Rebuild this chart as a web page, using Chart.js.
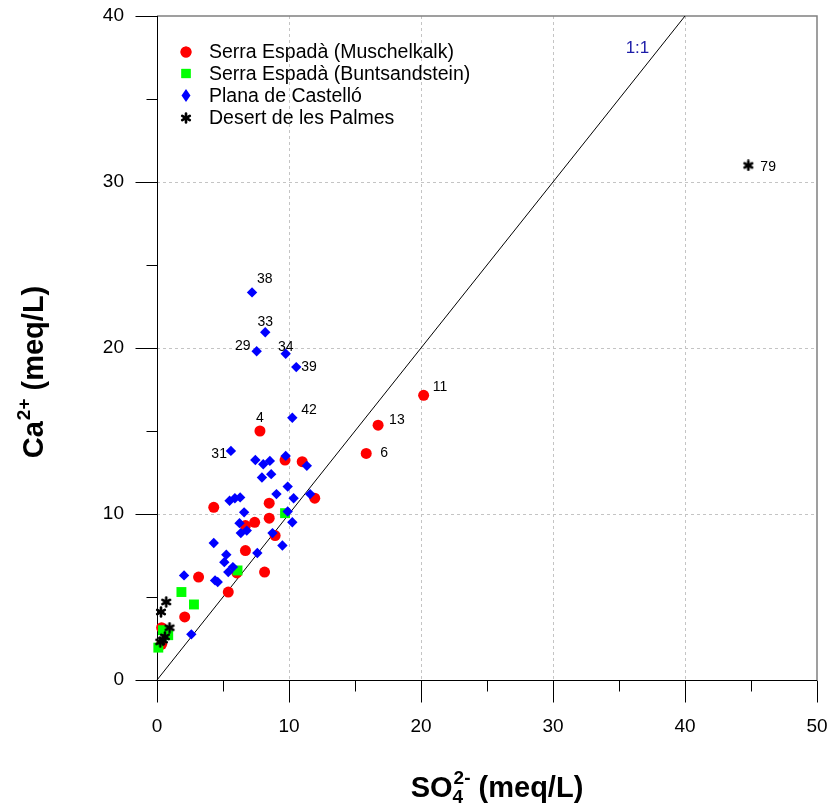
<!DOCTYPE html>
<html><head><meta charset="utf-8">
<script src="https://cdn.jsdelivr.net/npm/chart.js@4.4.0/dist/chart.umd.min.js"></script>
<style>html,body{margin:0;padding:0;background:#fff;} #wrap{width:832px;height:809px;position:relative;}</style>
</head><body><div id="wrap"><canvas id="c" width="832" height="809"></canvas></div>
<script>
// ---------- DATA ----------
const seriesNames = ['Serra Espadà (Muschelkalk)', 'Serra Espadà (Buntsandstein)', 'Plana de Castelló', 'Desert de les Palmes'];

const muschelkalkSO4 = [7.8, 9.7, 11.0, 11.95, 4.3, 8.5, 8.5, 7.4, 6.7, 8.95, 6.7, 6.05, 8.15, 3.15, 5.4, 2.1, 0.35, 0.35, 20.2, 16.75, 15.85];
const muschelkalkCa  = [15.0, 13.25, 13.15, 10.95, 10.4, 10.65, 9.75, 9.5, 9.3, 8.7, 7.8, 6.45, 6.5, 6.2, 5.3, 3.8, 3.15, 2.15, 17.15, 15.35, 13.65];
const muschelkalkLabels = ['4', '', '', '', '', '', '', '', '', '', '', '', '', '', '', '', '', '', '11', '13', '6'];

const buntSO4 = [9.7, 6.1, 1.85, 2.8, 0.45, 0.85, 0.1];
const buntCa  = [10.05, 6.6, 5.3, 4.55, 3.0, 2.7, 1.95];

const planaSO4 = [7.2, 8.2, 7.55, 9.75, 10.55, 10.25, 5.6, 7.45, 8.05, 8.55, 9.75, 11.35, 7.95, 8.65, 9.9, 9.05, 10.35, 11.6, 5.5, 5.9, 6.3, 6.6, 9.9, 10.25, 6.25, 6.35, 6.8, 8.75, 9.5, 4.3, 5.25, 7.6, 5.1, 5.75, 5.4, 2.05, 4.4, 4.6, 2.6];
const planaCa  = [23.35, 20.95, 19.8, 19.65, 18.85, 15.8, 13.8, 13.25, 13.0, 13.2, 13.5, 12.9, 12.2, 12.4, 11.65, 11.2, 10.95, 11.2, 10.8, 10.95, 11.0, 10.1, 10.15, 9.5, 9.45, 8.85, 9.0, 8.85, 8.1, 8.25, 7.55, 7.65, 7.1, 6.8, 6.5, 6.3, 6.0, 5.9, 2.75];
const planaLabels = ['38', '33', '29', '34', '39', '42', '31', '', '', '', '', '', '', '', '', '', '', '', '', '', '', '', '', '', '', '', '', '', '', '', '', '', '', '', '', '', '', '', ''];

const palmesSO4 = [44.8, 0.7, 0.3, 0.95, 0.6, 0.45, 0.25];
const palmesCa  = [31.0, 4.7, 4.1, 3.15, 2.6, 2.4, 2.3];
const palmesLabels = ['79', '', '', '', '', '', ''];

const oneToOneX = [0, 40];
const oneToOneY = [0, 40];

const xTicks = [0, 10, 20, 30, 40, 50];
const yTicks = [0, 10, 20, 30, 40];
const xMinorTicks = [5, 15, 25, 35, 45];
const yMinorTicks = [5, 15, 25, 35];

// ---------- STYLE ----------
const FONT = "'Liberation Sans', Arial, Helvetica, sans-serif";
const labelStyle = {
  '4': [0, -13, 'center'], '11': [9, -8, 'left'], '13': [11, -5, 'left'], '6': [14, 0, 'left'],
  '38': [5, -13, 'left'], '33': [0, -10, 'center'], '29': [-6, -5, 'right'], '34': [0, -7, 'center'],
  '39': [5, 0, 'left'], '42': [9, -8, 'left'], '31': [-4, 3, 'right'], '79': [12, 2, 'left']
};

function makeStar() {
  const c = document.createElement('canvas');
  c.width = 12; c.height = 12;
  const g = c.getContext('2d');
  g.strokeStyle = '#000'; g.lineWidth = 2.6; g.lineCap = 'round';
  for (let i = 0; i < 6; i++) {
    const a = Math.PI / 2 + i * Math.PI / 3;
    g.beginPath(); g.moveTo(6, 6); g.lineTo(6 + Math.cos(a) * 4.4, 6 - Math.sin(a) * 4.4); g.stroke();
  }
  g.fillStyle = '#000'; g.beginPath(); g.arc(6, 6, 2.3, 0, Math.PI * 2); g.fill();
  return c;
}
const starImg = makeStar();

const zip = (xs, ys) => xs.map((x, i) => ({x: x, y: ys[i]}));

const datasets = [
  {label: '1:1', type: 'line', data: zip(oneToOneX, oneToOneY), borderColor: '#000', borderWidth: 1, pointRadius: 0, fill: false, order: 10, clip: false},
  {label: seriesNames[0], data: zip(muschelkalkSO4, muschelkalkCa), pointLabels: muschelkalkLabels, pointStyle: 'circle', pointRadius: 5.5, backgroundColor: '#ff0000', borderWidth: 0, order: 4, clip: false},
  {label: seriesNames[1], data: zip(buntSO4, buntCa), pointStyle: 'rect', pointRadius: 7, backgroundColor: '#00ff00', borderWidth: 0, order: 3, clip: false},
  {label: seriesNames[2], data: zip(planaSO4, planaCa), pointLabels: planaLabels, pointStyle: 'rectRot', pointRadius: 5.2, backgroundColor: '#0000ff', borderWidth: 0, order: 2, clip: false},
  {label: seriesNames[3], data: zip(palmesSO4, palmesCa), pointLabels: palmesLabels, pointStyle: starImg, pointRadius: 6, backgroundColor: '#000', borderWidth: 0, order: 1, clip: false}
];

const decor = {
  id: 'decor',
  beforeDatasetsDraw(chart) {
    const ctx = chart.ctx, xs = chart.scales.x, ys = chart.scales.y, a = chart.chartArea;
    ctx.save();
    // grid
    ctx.strokeStyle = '#c4c4c4'; ctx.lineWidth = 1; ctx.setLineDash([3, 3]);
    xTicks.forEach(v => { if (v > xs.min && v < xs.max) { const p = Math.round(xs.getPixelForValue(v)) + 0.5; ctx.beginPath(); ctx.moveTo(p, a.top); ctx.lineTo(p, a.bottom); ctx.stroke(); } });
    yTicks.forEach(v => { if (v > ys.min && v < ys.max) { const p = Math.round(ys.getPixelForValue(v)) + 0.5; ctx.beginPath(); ctx.moveTo(a.left, p); ctx.lineTo(a.right, p); ctx.stroke(); } });
    ctx.setLineDash([]);
    // top & right borders
    ctx.strokeStyle = '#808080'; ctx.lineWidth = 1.5;
    ctx.beginPath(); ctx.moveTo(a.left, a.top); ctx.lineTo(a.right, a.top); ctx.lineTo(a.right, a.bottom); ctx.stroke();
    // axes
    ctx.strokeStyle = '#000'; ctx.lineWidth = 1;
    const x0 = Math.round(xs.getPixelForValue(0)) + 0.5, y0 = Math.round(ys.getPixelForValue(0)) + 0.5;
    ctx.beginPath(); ctx.moveTo(x0, a.top); ctx.lineTo(x0, a.bottom); ctx.stroke();
    ctx.beginPath(); ctx.moveTo(a.left, y0); ctx.lineTo(a.right, y0); ctx.stroke();
    // ticks
    xTicks.forEach(v => { const p = Math.round(xs.getPixelForValue(v)) + 0.5; ctx.beginPath(); ctx.moveTo(p, y0); ctx.lineTo(p, y0 + 22); ctx.stroke(); });
    xMinorTicks.forEach(v => { const p = Math.round(xs.getPixelForValue(v)) + 0.5; ctx.beginPath(); ctx.moveTo(p, y0); ctx.lineTo(p, y0 + 11); ctx.stroke(); });
    yTicks.forEach(v => { const p = Math.round(ys.getPixelForValue(v)) + 0.5; ctx.beginPath(); ctx.moveTo(x0, p); ctx.lineTo(x0 - 22, p); ctx.stroke(); });
    yMinorTicks.forEach(v => { const p = Math.round(ys.getPixelForValue(v)) + 0.5; ctx.beginPath(); ctx.moveTo(x0, p); ctx.lineTo(x0 - 11, p); ctx.stroke(); });
    ctx.restore();
  },
  afterDatasetsDraw(chart) {
    const ctx = chart.ctx, xs = chart.scales.x, ys = chart.scales.y;
    ctx.save();
    // point labels
    ctx.fillStyle = '#000'; ctx.font = '14px ' + FONT; ctx.textBaseline = 'middle';
    chart.data.datasets.forEach((ds, di) => {
      if (!ds.pointLabels) return;
      const meta = chart.getDatasetMeta(di);
      ds.pointLabels.forEach((t, i) => {
        if (!t) return;
        const el = meta.data[i], st = labelStyle[t] || [8, 0, 'left'];
        ctx.textAlign = st[2];
        ctx.fillText(t, el.x + st[0], el.y + st[1]);
      });
    });
    // 1:1 text
    ctx.fillStyle = '#1c1ca8'; ctx.font = '17px ' + FONT; ctx.textAlign = 'center';
    ctx.fillText('1:1', xs.getPixelForValue(36.4), ys.getPixelForValue(38.05));
    // legend
    const lx = 186, ly = [52, 73.5, 95.5, 118];
    const styles = [
      {pointStyle: 'circle', radius: 5.5, color: '#ff0000'},
      {pointStyle: 'rect', radius: 6.5, color: '#00ff00'},
      {pointStyle: 'diamond', radius: 6, color: '#0000ff'},
      {pointStyle: starImg, radius: 6, color: '#000'}
    ];
    ctx.textAlign = 'left'; ctx.textBaseline = 'middle'; ctx.font = '19.5px ' + FONT;
    seriesNames.forEach((n, i) => {
      const s = styles[i];
      ctx.fillStyle = s.color; ctx.strokeStyle = s.color;
      if (s.pointStyle === 'diamond') {
        ctx.beginPath(); ctx.moveTo(lx, ly[i] - 6.5); ctx.lineTo(lx + 4.5, ly[i]); ctx.lineTo(lx, ly[i] + 6.5); ctx.lineTo(lx - 4.5, ly[i]); ctx.closePath(); ctx.fill();
      } else {
        Chart.helpers.drawPoint(ctx, {pointStyle: s.pointStyle, radius: s.radius, rotation: 0, borderWidth: 0}, lx, ly[i]);
        if (typeof s.pointStyle === 'string') ctx.fill();
      }
      ctx.fillStyle = '#000';
      ctx.fillText(n, 209, ly[i] + 1);
    });
    // axis titles
    ctx.fillStyle = '#000';
    const big = 'bold 29px ' + FONT, small = 'bold 19px ' + FONT;
    ctx.textBaseline = 'alphabetic'; ctx.textAlign = 'left';
    ctx.font = big; const wSO = ctx.measureText('SO').width, wRest = ctx.measureText(' (meq/L)').width;
    ctx.font = small; const w4 = ctx.measureText('4').width, w2 = ctx.measureText('2-').width;
    const wx = Math.max(w4, w2 + 1);
    let sx = 497 - (wSO + wx + wRest) / 2, by = 797;
    ctx.font = big; ctx.fillText('SO', sx, by);
    ctx.font = small; ctx.fillText('4', sx + wSO, by + 6); ctx.fillText('2-', sx + wSO + 1, by - 13);
    ctx.font = big; ctx.fillText(' (meq/L)', sx + wSO + wx, by);
    // y title (rotated)
    ctx.translate(43, 372); ctx.rotate(-Math.PI / 2);
    ctx.font = big; const wCa = ctx.measureText('Ca').width;
    ctx.font = small; const wsp = ctx.measureText('2+').width;
    let s2 = -(wCa + wsp + 1 + wRest) / 2;
    ctx.font = big; ctx.fillText('Ca', s2, 0);
    ctx.font = small; ctx.fillText('2+', s2 + wCa + 1, -13);
    ctx.font = big; ctx.fillText(' (meq/L)', s2 + wCa + wsp + 1, 0);
    ctx.restore();
  }
};

const zeroPad = s => { s.paddingLeft = 0; s.paddingRight = 0; s.paddingTop = 0; s.paddingBottom = 0; };

new Chart(document.getElementById('c'), {
  type: 'scatter',
  data: {datasets: datasets},
  options: {
    responsive: false, animation: false, devicePixelRatio: 1,
    layout: {padding: {top: 16, right: 15, left: 0, bottom: 0}},
    plugins: {legend: {display: false}, tooltip: {enabled: false}},
    scales: {
      x: {type: 'linear', min: 0, max: 50, grid: {display: false}, border: {display: false},
          ticks: {stepSize: 10, color: '#000', font: {family: FONT, size: 19}, padding: 27, maxRotation: 0},
          afterFit: s => { s.height = 129; zeroPad(s); }},
      y: {type: 'linear', min: 0, max: 40, grid: {display: false}, border: {display: false},
          ticks: {stepSize: 10, color: '#000', font: {family: FONT, size: 19}, padding: 25},
          afterFit: s => { s.width = 157; zeroPad(s); }}
    }
  },
  plugins: [decor]
});
</script>
</body></html>
